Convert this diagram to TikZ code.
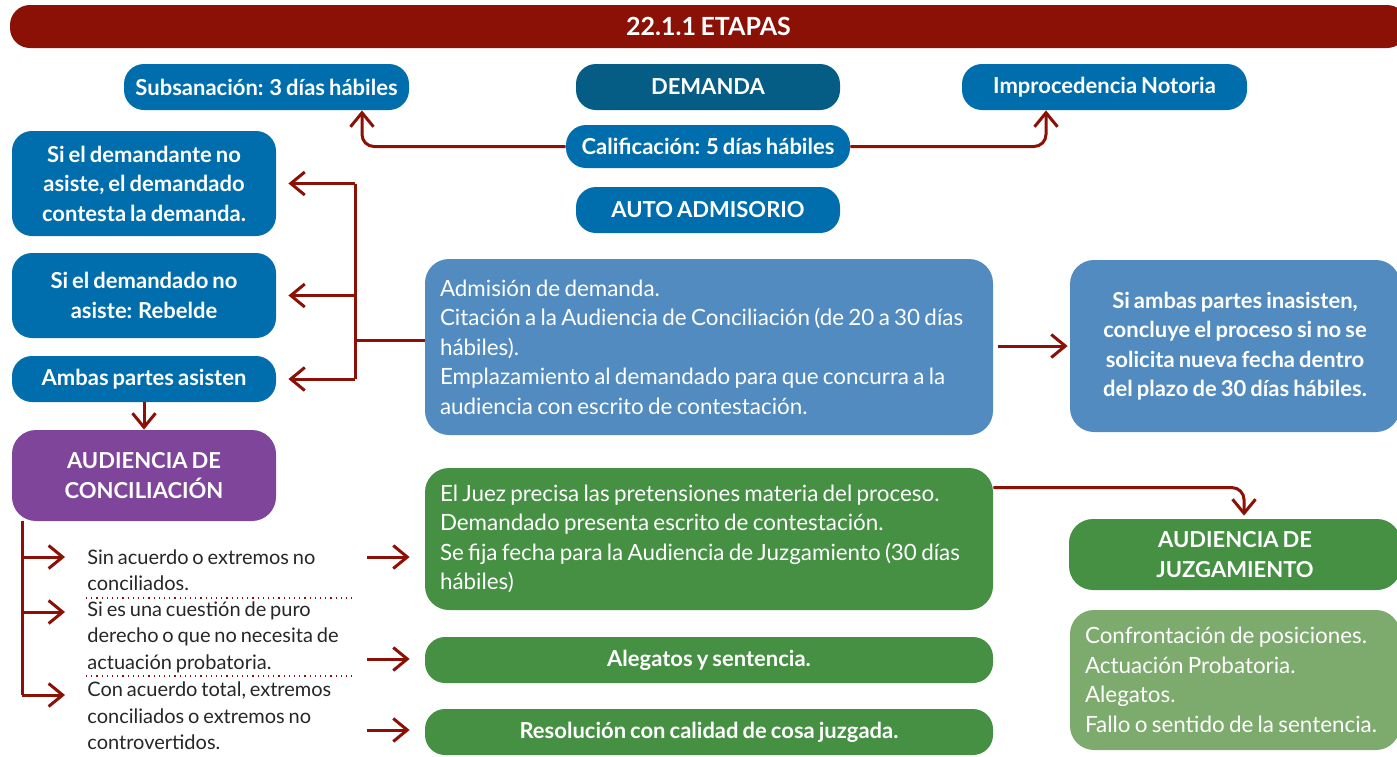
\documentclass[tikz,border=0pt]{standalone}
\usepackage{fontspec}
\setmainfont{Lato}[WordSpace=0.75]
\usetikzlibrary{arrows.meta,calc}
\definecolor{rojo}{HTML}{8B1006}
\definecolor{azul}{HTML}{006EAC}
\definecolor{azulosc}{HTML}{055C84}
\definecolor{celeste}{HTML}{528BBF}
\definecolor{verde}{HTML}{469044}
\definecolor{verdeclaro}{HTML}{7DAA6D}
\definecolor{morado}{HTML}{7E459A}
\hyphenpenalty=10000

\begin{document}
\begin{tikzpicture}[x=0.5pt,y=-0.5pt,
  caja/.style={rounded corners=10pt,text=white,inner sep=0pt,align=center,
    font=\bfseries\fontsize{11}{14.75}\selectfont},
  texto/.style={rounded corners=12pt,text=white,inner ysep=0pt,inner xsep=7.5pt,align=flush left,
    font=\fontsize{11.2}{14.75}\selectfont},
  nota/.style={anchor=west,inner sep=0pt,align=left,text=black!85,
    font=\fontsize{10}{13.25}\selectfont},
  linea/.style={draw=rojo,line width=1.5pt},
  flecha/.style={linea,-{Straight Barb[length=7pt,width=11.5pt,line width=1.5pt]}}]
\useasboundingbox (0,0) rectangle (1397,756);
\clip (0,0) rectangle (1397,756);
% titulo
\node[caja,fill=rojo,minimum width=698.5pt,minimum height=21.5pt,
  font=\bfseries\fontsize{12.5}{15}\selectfont] (titulo) at (708.5,26.5) {22.1.1 ETAPAS};
% calificacion de la demanda
\node[caja,fill=azul,minimum width=142.5pt,minimum height=23pt] (subs) at (266.5,87) {Subsanación: 3 días hábiles};
\node[caja,fill=azulosc,minimum width=132pt,minimum height=23pt] (dem) at (708,87) {DEMANDA};
\node[caja,fill=azul,minimum width=142.5pt,minimum height=23pt] (impro) at (1104.5,87) {Improcedencia Notoria};
\node[caja,fill=azul,minimum width=142pt,minimum height=21.5pt] (calif) at (708,146.5) {Calificación: 5 días hábiles};
\node[caja,fill=azul,minimum width=132pt,minimum height=23pt] (auto) at (708,210) {AUTO ADMISORIO};
\draw[flecha,rounded corners=6pt] (calif.west) -| ($(subs.south)+(95.5,0)$);
\draw[flecha,rounded corners=6pt] (calif.east) -| ($(impro.south)+(-58.5,0)$);
% asistencia
\node[caja,fill=azul,minimum width=132pt,minimum height=52.5pt] (dem1) at (144,183.5)
  {Si el demandante no\\asiste, el demandado\\contesta la demanda.};
\node[caja,fill=azul,minimum width=132pt,minimum height=42.5pt] (dem2) at (144,295.5)
  {Si el demandado no\\asiste: Rebelde};
\node[caja,fill=azul,minimum width=132pt,minimum height=23pt] (ambas) at (144,379) {Ambas partes asisten};
\node[texto,fill=celeste,text width=269pt,minimum height=88pt] (adm) at (709,347)
  {Admisión de demanda.\\
   Citación a la Audiencia de Conciliación (de 20 a 30 días\\
   hábiles).\\
   Emplazamiento al demandado para que concurra a la\\
   audiencia con escrito de contestación.};
\node[caja,fill=celeste,rounded corners=12pt,minimum width=165pt,minimum height=86pt] (inas) at (1235,346)
  {Si ambas partes inasisten,\\concluye el proceso si no se\\solicita nueva fecha dentro\\del plazo de 30 días hábiles.};
\coordinate (nodo) at (355,340);
\draw[linea] (adm.west |- nodo) -- (nodo);
\draw[linea] (nodo |- dem1.east) -- (nodo |- ambas.east);
\draw[flecha,shorten >=6pt] (nodo |- dem1.east) -- (dem1.east);
\draw[flecha,shorten >=6pt] (nodo |- dem2.east) -- (dem2.east);
\draw[flecha,shorten >=6pt] (nodo |- ambas.east) -- (ambas.east);
\draw[flecha,shorten <=2.5pt,shorten >=1pt] (adm.east |- inas.west) -- (inas.west);
% audiencia de conciliacion
\node[caja,fill=morado,rounded corners=12pt,minimum width=132pt,minimum height=45.5pt] (conc) at (144,475.5)
  {AUDIENCIA DE\\CONCILIACIÓN};
\draw[flecha] (ambas.south) -- (conc.north);
\node[nota] (sin) at (87,570) {Sin acuerdo o extremos no\\conciliados.};
\node[nota] (puro) at (87,637) {Si es una cuestión de puro\\derecho o que no necesita de\\actuación probatoria.};
\node[nota] (total) at (87,716) {Con acuerdo total, extremos\\conciliados o extremos no\\controvertidos.};
\draw[rojo,dotted,line width=0.6pt] (86,598) -- (356,598);
\draw[rojo,dotted,line width=0.6pt] (86,676) -- (356,676);
\coordinate (r1) at (22,557);
\coordinate (r2) at (22,612);
\coordinate (r3) at (22,695);
\draw[linea] (conc.south -| r1) -- (r3);
\foreach \r in {r1,r2,r3}
  \draw[flecha] (\r) -- ++(43,0);
% juzgamiento
\node[texto,fill=verde,text width=269pt,minimum height=71pt] (juez) at (709,539)
  {El Juez precisa las pretensiones materia del proceso.\\
   Demandado presenta escrito de contestación.\\
   Se fija fecha para la Audiencia de Juzgamiento (30 días\\
   hábiles)};
\node[caja,fill=verde,minimum width=284pt,minimum height=23pt] (aleg) at (709,660) {Alegatos y sentencia.};
\node[caja,fill=verde,minimum width=284pt,minimum height=23pt] (resol) at (709,732) {Resolución con calidad de cosa juzgada.};
\coordinate (s1) at (367,557);
\coordinate (s2) at (367,659);
\coordinate (s3) at (367,730);
\draw[flecha,shorten >=7.5pt] (s1) -- (s1 -| juez.west);
\draw[flecha,shorten >=7.5pt] (s2) -- (s2 -| aleg.west);
\draw[flecha,shorten >=7.5pt] (s3) -- (s3 -| resol.west);
\node[caja,fill=verde,rounded corners=12pt,minimum width=166pt,minimum height=35.5pt] (juzg) at (1235,554.5)
  {AUDIENCIA DE\\JUZGAMIENTO};
\draw[flecha,rounded corners=6pt,shorten >=1.5pt] ($(juez.north east)+(0,20)$) -| ($(juzg.north)+(9,0)$);
\node[texto,fill=verdeclaro,text width=150pt,minimum height=70pt] (conf) at (1235,680)
  {Confrontación de posiciones.\\
   Actuación Probatoria.\\
   Alegatos.\\
   Fallo o sentido de la sentencia.};
\end{tikzpicture}
\end{document}
